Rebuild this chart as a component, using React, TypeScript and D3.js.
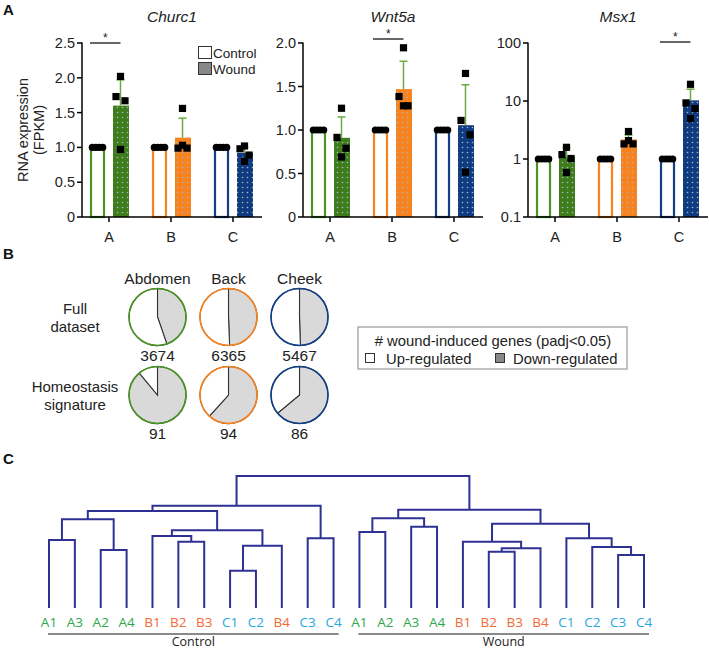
import React from "react";
import * as d3 from "d3";

const W = 709;
const H = 650;
const FONT = "'Liberation Sans', Arial, Helvetica, sans-serif";

// ---------- Panel A data ----------
const sites = ["A", "B", "C"];
const genes = ["Churc1", "Wnt5a", "Msx1"];
const controlMean = [1, 1, 1];
const churc1Wound = [1.6, 1.14, 0.92];
const churc1Err = [1.97, 1.42, 1.0];
const churc1Pts = [[2.02, 1.73, 1.67, 0.97], [1.56, 0.99, 0.99, 1.03], [1.02, 0.98, 0.89, 0.8]];
const wnt5aWound = [0.91, 1.47, 1.055];
const wnt5aErr = [1.15, 1.79, 1.52];
const wnt5aPts = [[1.25, 0.915, 0.79, 0.69], [1.945, 1.385, 1.278, 1.278], [1.65, 1.11, 0.945, 0.515]];
const msx1Wound = [1.1, 2.17, 10.26];
const msx1Err = [1.57, 2.6, 16];
const msx1Pts = [[1.59, 1.19, 1.02, 0.585], [2.98, 1.82, 1.82, 2.08], [19.4, 9.27, 7.4, 4.96]];
const churc1Ticks = [0, 0.5, 1, 1.5, 2, 2.5];
const wnt5aTicks = [0, 0.5, 1, 1.5, 2];
const msx1Ticks = [0.1, 1, 10, 100];
const sigSite = ["A", "B", "C"];

// ---------- Panel B data ----------
const tissues = ["Abdomen", "Back", "Cheek"];
const rowsB = ["Full dataset", "Homeostasis signature"];
const fullUp = [2032, 3221, 2761];
const fullDown = [1642, 3144, 2706];
const homeoUp = [10, 36, 31];
const homeoDown = [81, 58, 55];

// ---------- Panel C data ----------
const controlLeaves = ["A1", "A3", "A2", "A4", "B1", "B2", "B3", "C1", "C2", "B4", "C3", "C4"];
const woundLeaves = ["A1", "A2", "A3", "A4", "B1", "B2", "B3", "B4", "C1", "C2", "C3", "C4"];
const controlMerges: [string, string, string, number][] = [
  ["cA13", "c:A1", "c:A3", 0.515],
  ["cA24", "c:A2", "c:A4", 0.439],
  ["cA", "cA13", "cA24", 0.672],
  ["cB23", "c:B2", "c:B3", 0.502],
  ["cB", "c:B1", "cB23", 0.545],
  ["cC12", "c:C1", "c:C2", 0.283],
  ["cC12B4", "cC12", "c:B4", 0.472],
  ["cBC", "cB", "cC12B4", 0.589],
  ["cABC", "cA", "cBC", 0.735],
  ["cC34", "c:C3", "c:C4", 0.528],
  ["control", "cABC", "cC34", 0.775],
];
const woundMerges: [string, string, string, number][] = [
  ["wA12", "w:A1", "w:A2", 0.576],
  ["wA34", "w:A3", "w:A4", 0.616],
  ["wA", "wA12", "wA34", 0.68],
  ["wB23", "w:B2", "w:B3", 0.427],
  ["wB234", "wB23", "w:B4", 0.452],
  ["wB", "w:B1", "wB234", 0.502],
  ["wC34", "w:C3", "w:C4", 0.402],
  ["wC234", "w:C2", "wC34", 0.462],
  ["wC", "w:C1", "wC234", 0.528],
  ["wBC", "wB", "wC", 0.639],
  ["wound", "wA", "wBC", 0.745],
];
const rootMerge: [string, string, string, number][] = [["root", "control", "wound", 1.0]];

// ---------- styles ----------
const siteColor = ["#4a9324", "#f7821e", "#123f86"];
const woundFill = ["#3d7d1c", "#f7821e", "#0f3c80"];
const errColor = "#6aaa40";
const leafColor: Record<string, string> = { A: "#2ea84a", B: "#f26a36", C: "#2aa6e0" };
const treeColor = "#2e3192";

type ChartCfg = {
  gene: string;
  x0: number;
  wound: number[];
  err: number[];
  pts: number[][];
  ticks: number[];
  log: boolean;
  sig: string;
  sigY: number;
};

const chartX0 = [82, 303, 528];
const chartCfgs: ChartCfg[] = [
  { gene: genes[0], x0: chartX0[0], wound: churc1Wound, err: churc1Err, pts: churc1Pts, ticks: churc1Ticks, log: false, sig: sigSite[0], sigY: 43 },
  { gene: genes[1], x0: chartX0[1], wound: wnt5aWound, err: wnt5aErr, pts: wnt5aPts, ticks: wnt5aTicks, log: false, sig: sigSite[1], sigY: 39 },
  { gene: genes[2], x0: chartX0[2], wound: msx1Wound, err: msx1Err, pts: msx1Pts, ticks: msx1Ticks, log: true, sig: sigSite[2], sigY: 42 },
];

const jitter = [0, -4.5, 4.5, 0];

function BarChart({ cfg }: { cfg: ChartCfg }) {
  const yTop = 43, yBot = 217;
  const x = d3.scalePoint<string>().domain(sites).range([cfg.x0 + 27, cfg.x0 + 151]);
  const tmax = cfg.ticks[cfg.ticks.length - 1];
  const y: any = cfg.log
    ? d3.scaleLog().domain([cfg.ticks[0], tmax]).range([yBot, yTop])
    : d3.scaleLinear().domain([0, tmax]).range([yBot, yTop]);
  const base = cfg.log ? cfg.ticks[0] : 0;
  const bw = 15;
  const off = 11.5;
  const fmt = (v: number) => (cfg.log ? String(v) : v === 0 ? "0" : d3.format(".1f")(v));
  return (
    <g>
      <text x={(cfg.x0 + cfg.x0 + 180) / 2} y={22} textAnchor="middle" fontStyle="italic" fontSize={15.5}>
        {cfg.gene}
      </text>
      {sites.map((s, i) => {
        const cx = x(s)! - off;
        const wx = x(s)! + off;
        return (
          <g key={s}>
            <rect x={cx - bw / 2 + 1} y={y(controlMean[i])} width={bw - 2} height={y(base) - y(controlMean[i])} fill="#fff" stroke={siteColor[i]} strokeWidth={2.2} />
            <rect x={wx - bw / 2} y={y(cfg.wound[i])} width={bw + 1} height={y(base) - y(cfg.wound[i])} fill={woundFill[i]} />
            <rect x={wx - bw / 2} y={y(cfg.wound[i])} width={bw + 1} height={y(base) - y(cfg.wound[i])} fill="url(#dots)" />
            <line x1={wx} x2={wx} y1={y(cfg.wound[i])} y2={y(cfg.err[i])} stroke={errColor} strokeWidth={1.5} />
            <line x1={wx - 4} x2={wx + 4} y1={y(cfg.err[i])} y2={y(cfg.err[i])} stroke={errColor} strokeWidth={1.5} />
            {[-5.2, -1.7, 1.7, 5.2].map((d, k) => (
              <circle key={k} cx={cx + d} cy={y(controlMean[i])} r={3.6} fill="#000" />
            ))}
            {cfg.pts[i].map((v, k) => (
              <rect key={k} x={wx + jitter[k] - 3.6} y={y(v) - 3.6} width={7.2} height={7.2} fill="#000" />
            ))}
          </g>
        );
      })}
      <line x1={cfg.x0} x2={cfg.x0} y1={yTop - 0.5} y2={yBot} stroke="#000" strokeWidth={1.5} />
      <line x1={cfg.x0} x2={cfg.x0 + 180} y1={yBot} y2={yBot} stroke="#000" strokeWidth={1.5} />
      {cfg.ticks.map((t) => (
        <g key={t}>
          <line x1={cfg.x0 - 5} x2={cfg.x0} y1={y(t)} y2={y(t)} stroke="#000" strokeWidth={1.5} />
          <text x={cfg.x0 - 7} y={y(t) + 5} textAnchor="end" fontSize={14.5}>
            {fmt(t)}
          </text>
        </g>
      ))}
      {sites.map((s) => (
        <g key={s}>
          <line x1={x(s)!} x2={x(s)!} y1={yBot} y2={yBot + 5} stroke="#000" strokeWidth={1.5} />
          <text x={x(s)!} y={yBot + 25} textAnchor="middle" fontSize={14.5}>
            {s}
          </text>
        </g>
      ))}
      <line x1={x(cfg.sig)! - off - bw / 2} x2={x(cfg.sig)! + off} y1={cfg.sigY} y2={cfg.sigY} stroke="#000" strokeWidth={1.2} />
      <text x={(x(cfg.sig)! - off - bw / 2 + x(cfg.sig)! + off) / 2} y={cfg.sigY - 1} textAnchor="middle" fontSize={12}>
        *
      </text>
    </g>
  );
}

function PanelB() {
  const col = d3.scalePoint<string>().domain(tissues).range([157.5, 299.5]);
  const row = d3.scalePoint<string>().domain(rowsB).range([317, 395]);
  const r = 28.5;
  const pie = d3.pie<number>().sort(null).value((d) => d);
  const arc = d3.arc<d3.PieArcDatum<number>>().innerRadius(0).outerRadius(r);
  const rowsData = [
    { name: rowsB[0], up: fullUp, down: fullDown, lines: ["Full", "dataset"] },
    { name: rowsB[1], up: homeoUp, down: homeoDown, lines: ["Homeostasis", "signature"] },
  ];
  return (
    <g>
      {tissues.map((t) => (
        <text key={t} x={col(t)!} y={284} textAnchor="middle" fontSize={15.5}>
          {t}
        </text>
      ))}
      {rowsData.map((rd) => {
        const cy = row(rd.name)!;
        return (
          <g key={rd.name}>
            {rd.lines.map((l, k) => (
              <text key={l} x={75} y={cy - 3 + k * 18} textAnchor="middle" fontSize={15}>
                {l}
              </text>
            ))}
            {tissues.map((t, i) => {
              const arcs = pie([rd.down[i], rd.up[i]]);
              const total = rd.down[i] + rd.up[i];
              return (
                <g key={t} transform={`translate(${col(t)},${cy})`}>
                  {arcs.map((a, k) => (
                    <path key={k} d={arc(a)!} fill={k === 0 ? "#d9d9d9" : "#fff"} stroke="#333" strokeWidth={1.1} />
                  ))}
                  <circle r={r} fill="none" stroke={siteColor[i]} strokeWidth={1.6} />
                  <text y={r + 15.5} textAnchor="middle" fontSize={15.5}>
                    {total}
                  </text>
                </g>
              );
            })}
          </g>
        );
      })}
      <rect x={358} y={327} width={269} height={42} fill="#fff" stroke="#999" strokeWidth={1.2} />
      <text x={493} y={346} textAnchor="middle" fontSize={14.8}>
        # wound-induced genes (padj&lt;0.05)
      </text>
      <rect x={365.5} y={353.5} width={9} height={9} fill="#fff" stroke="#333" strokeWidth={1} />
      <text x={386} y={363.5} fontSize={14.8}>
        Up-regulated
      </text>
      <rect x={495.5} y={353.5} width={9} height={9} fill="#888" stroke="#333" strokeWidth={1} />
      <text x={513} y={363.5} fontSize={14.8}>
        Down-regulated
      </text>
    </g>
  );
}

function PanelC() {
  const leafIds = [...controlLeaves.map((l) => "c:" + l), ...woundLeaves.map((l) => "w:" + l)];
  const x = d3.scalePoint<string>().domain(leafIds).range([49, 644]);
  const y = d3.scaleLinear().domain([0, 1]).range([608, 476]);
  const nodes = new Map<string, { x: number; h: number }>();
  leafIds.forEach((id) => nodes.set(id, { x: x(id)!, h: 0 }));
  const paths: string[] = [];
  [...controlMerges, ...woundMerges, ...rootMerge].forEach(([id, l, r, h]) => {
    const a = nodes.get(l)!;
    const b = nodes.get(r)!;
    const p = d3.path();
    p.moveTo(a.x, y(a.h));
    p.lineTo(a.x, y(h));
    p.lineTo(b.x, y(h));
    p.lineTo(b.x, y(b.h));
    paths.push(p.toString());
    nodes.set(id, { x: (a.x + b.x) / 2, h });
  });
  const groups = [
    { name: "Control", ids: controlLeaves.map((l) => "c:" + l) },
    { name: "Wound", ids: woundLeaves.map((l) => "w:" + l) },
  ];
  return (
    <g>
      {paths.map((d, i) => (
        <path key={i} d={d} fill="none" stroke={treeColor} strokeWidth={2} />
      ))}
      {leafIds.map((id) => {
        const lab = id.slice(2);
        return (
          <text key={id} x={x(id)!} y={627} textAnchor="middle" fontSize={13.5} fill={leafColor[lab[0]]} fontFamily="'Open Sans', sans-serif">
            {lab}
          </text>
        );
      })}
      {groups.map((g) => {
        const x1 = x(g.ids[0])! - 1;
        const x2 = x(g.ids[g.ids.length - 1])! + 5;
        return (
          <g key={g.name}>
            <line x1={x1} x2={x2} y1={634} y2={634} stroke="#8a8a8a" strokeWidth={2} />
            <text x={(x1 + x2) / 2} y={646} textAnchor="middle" fontSize={12.5} fill="#222" fontFamily="'Open Sans', sans-serif">
              {g.name}
            </text>
          </g>
        );
      })}
    </g>
  );
}

export default function App() {
  return (
    <svg width={W} height={H} style={{ position: "absolute", left: 0, top: 0, background: "#fff" }} fontFamily={FONT} fill="#222">
      <defs>
        <pattern id="dots" width={5} height={5} patternUnits="userSpaceOnUse">
          <circle cx={2.5} cy={2.5} r={0.8} fill="#aab4bf" />
        </pattern>
      </defs>
      <rect width={W} height={H} fill="#fff" />
      <text x={3} y={15} fontSize={15} fontWeight="bold" fill="#111">A</text>
      <text x={3} y={259} fontSize={15} fontWeight="bold" fill="#111">B</text>
      <text x={3} y={464} fontSize={15} fontWeight="bold" fill="#111">C</text>
      <text transform="translate(30,130) rotate(-90)" textAnchor="middle" fontSize={14.5}>
        <tspan x={0} dy={-2}>RNA expression</tspan>
        <tspan x={0} dy={16}>(FPKM)</tspan>
      </text>
      {chartCfgs.map((c) => (
        <BarChart key={c.gene} cfg={c} />
      ))}
      <rect x={198.5} y={46.5} width={13} height={12} fill="#fff" stroke="#333" strokeWidth={1} />
      <text x={213} y={57.5} fontSize={13.5}>Control</text>
      <rect x={198.5} y={62.5} width={13} height={12} fill="#888" stroke="#333" strokeWidth={1} />
      <text x={213} y={73.5} fontSize={13.5}>Wound</text>
      <PanelB />
      <PanelC />
    </svg>
  );
}
